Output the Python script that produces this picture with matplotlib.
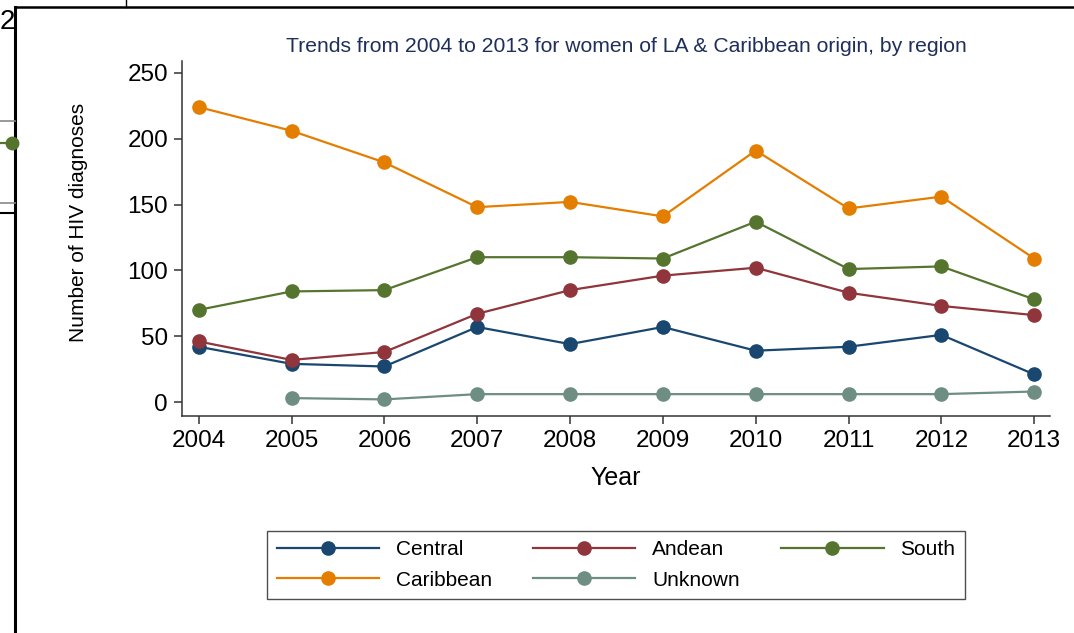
import matplotlib
matplotlib.use("Agg")
import matplotlib.pyplot as plt
from matplotlib.lines import Line2D

plt.rcParams['font.family'] = ['Liberation Sans', 'DejaVu Sans']

#Data
years = [2004, 2005, 2006, 2007, 2008, 2009, 2010, 2011, 2012, 2013]
central = [42, 29, 27, 57, 44, 57, 39, 42, 51, 21]
andean = [46, 32, 38, 67, 85, 96, 102, 83, 73, 66]
south = [70, 84, 85, 110, 110, 109, 137, 101, 103, 78]
caribbean = [224, 206, 182, 148, 152, 141, 191, 147, 156, 109]
unknown_years = [2005, 2006, 2007, 2008, 2009, 2010, 2011, 2012, 2013]
unknown = [3, 2, 6, 6, 6, 6, 6, 6, 8]
yticks = [0, 50, 100, 150, 200, 250]

#Stata s2color palette
c_central = "#1a476f"
c_andean = "#90353b"
c_south = "#55752f"
c_caribbean = "#e37e00"
c_unknown = "#6e8e84"

W, H = 1074, 633
fig = plt.figure(figsize=(W / 100, H / 100), dpi=100)
ax = fig.add_axes([182 / W, 1 - 416 / H, (1050 - 182) / W, (416 - 61) / H])

style = dict(marker='o', markersize=9.5, linewidth=1.6)
l_central, = ax.plot(years, central, color=c_central, label="Central", **style)
l_andean, = ax.plot(years, andean, color=c_andean, label="Andean", **style)
l_south, = ax.plot(years, south, color=c_south, label="South", **style)
l_carib, = ax.plot(years, caribbean, color=c_caribbean, label="Caribbean", **style)
l_unk, = ax.plot(unknown_years, unknown, color=c_unknown, label="Unknown", **style)

ax.set_xlim(2004 - 0.18, 2013 + 0.17)
ax.set_ylim(-10.6, 259)
ax.set_xticks(years)
ax.set_yticks(yticks)
for s in ['top', 'right']:
	ax.spines[s].set_visible(False)
for s in ['left', 'bottom']:
	ax.spines[s].set_color("#333333")
	ax.spines[s].set_linewidth(1.1)
ax.tick_params(axis='both', direction='out', length=6, width=1.1, color="#333333", labelsize=17.5, pad=4)
ax.set_xlabel("Year", fontsize=18, labelpad=10)
ax.set_ylabel("Number of HIV diagnoses", fontsize=15)
ax.yaxis.set_label_coords(-0.108, 0.546)

fig.text(626 / W, 1 - 46 / H, "Trends from 2004 to 2013 for women of LA & Caribbean origin, by region",
	ha='center', va='center', fontsize=15.2, color="#1f2f5c")

#Legend, row-major order like the original
handles = [l_central, l_carib, l_andean, l_unk, l_south]
leg = fig.legend(handles=handles, labels=[h.get_label() for h in handles], ncol=3,
	loc='center', bbox_to_anchor=(616 / W, 1 - 565 / H), fontsize=15,
	handlelength=4.9, handletextpad=0.8, columnspacing=2.0, labelspacing=0.55,
	frameon=True, fancybox=False, edgecolor="#222222", borderpad=0.45)
leg.get_frame().set_linewidth(1.0)

#Outer frame and bits of the window behind it
def fline(x, y, **kw):
	fig.add_artist(Line2D([v / W for v in x], [1 - v / H for v in y], transform=fig.transFigure, **kw))

fline([15, 1074], [7, 7], color="black", linewidth=1.8)
fline([15, 15], [7, 633], color="black", linewidth=2.2)
fline([126, 126], [0, 7], color="black", linewidth=1.0)
fline([0, 15], [121, 121], color="#888888", linewidth=1.2)
fline([0, 15], [203, 203], color="#888888", linewidth=1.2)
fline([0, 15], [213, 213], color="black", linewidth=1.5)
fline([0, 12], [143, 143], color=c_south, linewidth=1.6)
fline([12], [143], color=c_south, marker='o', markersize=9)
fig.text(0, 1 - 22 / H, "2", ha='left', va='center', fontsize=20)

fig.savefig("out.png", dpi=100)
